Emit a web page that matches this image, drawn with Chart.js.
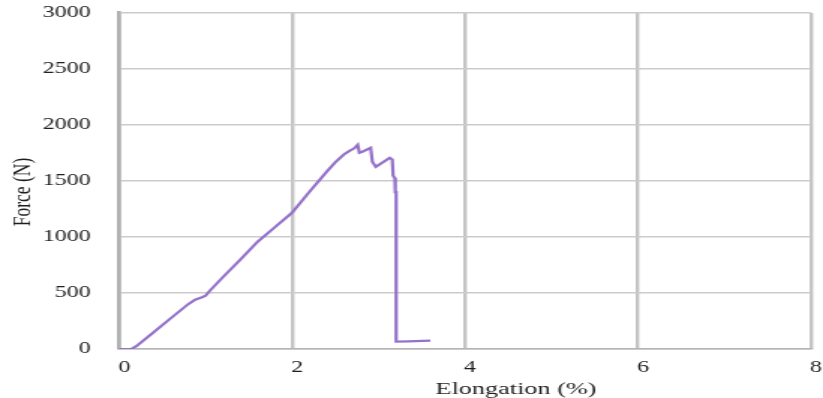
<!DOCTYPE html>
<html>
<head>
<meta charset="utf-8">
<script src="https://cdn.jsdelivr.net/npm/chart.js@4/dist/chart.umd.min.js"></script>
<style>
  html, body { margin: 0; padding: 0; background: #fff; overflow: hidden; }
  /* chart is laid out narrow and stretched horizontally */
  #wrap { position: relative; width: 549px; height: 398px; transform: scaleX(1.4991); transform-origin: 0 0; }
</style>
</head>
<body>
<div id="wrap"><canvas id="chart"></canvas></div>
<script>
// Tensile test: elongation (%) vs force (N)
const elongation = [0, 0.14, 0.2, 0.4, 0.6, 0.8, 0.88, 0.96, 1.0, 1.05, 1.2, 1.4, 1.6, 1.8, 2.0, 2.2, 2.4, 2.5, 2.6, 2.66, 2.72, 2.76, 2.78, 2.82, 2.91, 2.93, 2.97, 3.13, 3.16, 3.17, 3.19, 3.195, 3.205, 3.205, 3.35, 3.6];
const force      = [0, 0, 25, 150, 275, 400, 440, 462, 475, 520, 640, 795, 955, 1085, 1215, 1400, 1580, 1665, 1735, 1765, 1790, 1822, 1750, 1762, 1795, 1670, 1625, 1705, 1690, 1545, 1525, 1400, 1400, 65, 68, 74];
const xTicks = [0, 2, 4, 6, 8];
const yTicks = [0, 500, 1000, 1500, 2000, 2500, 3000];
const xTitle = 'Elongation (%)';
const yTitle = 'Force (N)';

const points = elongation.map((x, i) => ({ x: x, y: force[i] }));
const serif = "'Liberation Serif', 'Times New Roman', serif";

const axisTitles = {
  id: 'axisTitles',
  afterDraw(chart) {
    const { ctx, chartArea } = chart;
    ctx.save();
    ctx.fillStyle = '#1e1e1e';
    ctx.font = '17.5px ' + serif;
    ctx.textAlign = 'center';
    ctx.textBaseline = 'middle';
    ctx.fillText(xTitle, chartArea.left + 0.574 * (chartArea.right - chartArea.left), 389);
    ctx.translate(15, 192);
    ctx.rotate(-Math.PI / 2);
    ctx.fillText(yTitle, 0, 0);
    ctx.restore();
  }
};

new Chart(document.getElementById('chart'), {
  type: 'scatter',
  data: {
    datasets: [{
      data: points,
      showLine: true,
      borderColor: '#9572ca',
      backgroundColor: '#9572ca',
      borderWidth: 2.2,
      pointRadius: 0,
      tension: 0
    }]
  },
  options: {
    responsive: true,
    maintainAspectRatio: false,
    animation: false,
    layout: { padding: { top: 12.7, right: 8.2, bottom: 0, left: 0 } },
    plugins: { legend: { display: false }, tooltip: { enabled: false } },
    scales: {
      x: {
        type: 'linear',
        min: 0, max: 8,
        afterBuildTicks: s => { s.ticks = xTicks.map(v => ({ value: v })); },
        afterFit: s => { s.height = 49; s.paddingLeft = 0; s.paddingRight = 0; },
        grid: { color: '#c4c4c4', lineWidth: 2.4, drawTicks: false },
        border: { color: '#b4b4b4', width: 1.6 },
        ticks: { color: '#1e1e1e', font: { family: serif, size: 16 }, padding: 9, labelOffset: 3.5, maxRotation: 0,
                 callback: v => String(v) }
      },
      y: {
        min: 0, max: 3000,
        afterBuildTicks: s => { s.ticks = yTicks.map(v => ({ value: v })); },
        afterFit: s => { s.width = 79.4; s.paddingTop = 0; s.paddingBottom = 0; },
        grid: { color: '#cbcbcb', lineWidth: 1.6, drawTicks: false },
        border: { color: '#b0b0b0', width: 2.7 },
        ticks: { color: '#1e1e1e', font: { family: serif, size: 16 }, padding: 19,
                 callback: v => String(v) }
      }
    }
  },
  plugins: [axisTitles]
});
</script>
</body>
</html>
